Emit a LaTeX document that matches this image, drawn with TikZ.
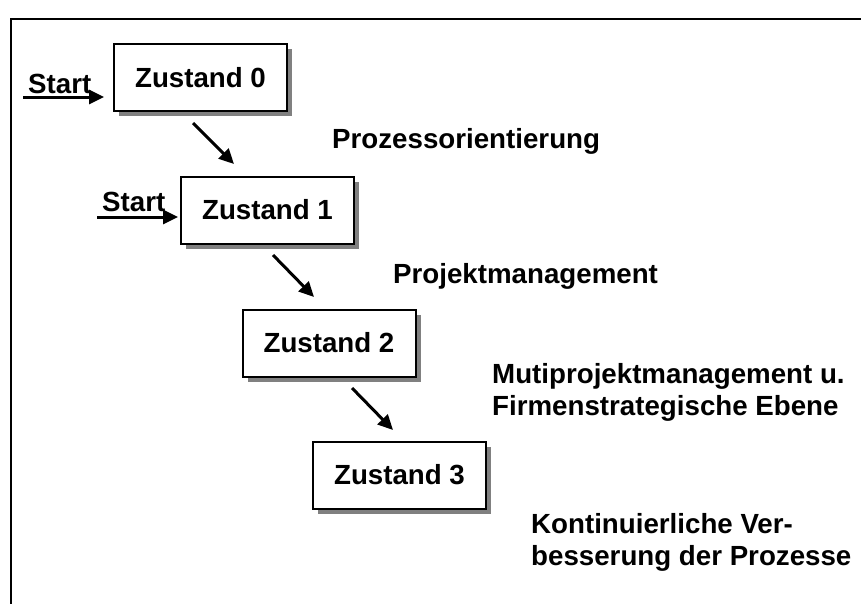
\documentclass[tikz,border=0pt]{standalone}
\usepackage{fontspec}
\setmainfont{Liberation Sans}
\usetikzlibrary{arrows.meta,shadows}
\begin{document}
\begin{tikzpicture}[x=1pt,y=-1pt,
  every node/.style={font=\fontsize{27.7}{32}\selectfont\bfseries},
  zbox/.style={draw=black,line width=2pt,fill=white,minimum width=173pt,minimum height=67pt,inner sep=0pt,
    drop shadow={shadow xshift=5pt,shadow yshift=-5pt,fill=black!50,opacity=1}},
  lbl/.style={anchor=base west,inner sep=0pt},
  arr/.style={line width=3pt,-{Triangle[length=15pt,width=14pt]}}]
\useasboundingbox (0,0) rectangle (861,603);
\fill[white] (0,0) rectangle (861,603);
\draw[line width=2.5pt] (11,606) -- (11,19) -- (864,19);
% boxes
\node[zbox] (z0) at (200.5,77.5) {Zustand 0};
\node[zbox] (z1) at (267.5,210) {Zustand 1};
\node[zbox] (z2) at (329,343) {Zustand 2};
\node[zbox] (z3) at (399.5,475) {Zustand 3};
% start arrows
\node[lbl] (s0) at (28,93) {Start};
\node[lbl] (s1) at (102,211) {Start};
\coordinate (s0a) at (23,97);
\coordinate (s0b) at (104,97);
\coordinate (s1a) at (97,217);
\coordinate (s1b) at (178,217);
\draw[arr] (s0a) -- (s0b);
\draw[arr] (s1a) -- (s1b);
% diagonal arrows
\coordinate (d0a) at (193,123);
\coordinate (d0b) at (234,164);
\coordinate (d1a) at (273,255);
\coordinate (d1b) at (314,297);
\coordinate (d2a) at (352,388);
\coordinate (d2b) at (393,430);
\draw[arr] (d0a) -- (d0b);
\draw[arr] (d1a) -- (d1b);
\draw[arr] (d2a) -- (d2b);
% labels
\node[lbl] (l0) at (332,148) {Prozessorientierung};
\node[lbl] (l1) at (393,283) {Projektmanagement};
\node[lbl] (l2a) at (492,383) {Mutiprojektmanagement u.};
\node[lbl] (l2b) at (492,415) {Firmenstrategische Ebene};
\node[lbl] (l3a) at (531,533) {Kontinuierliche Ver-};
\node[lbl] (l3b) at (531,565) {besserung der Prozesse};
\end{tikzpicture}
\end{document}
